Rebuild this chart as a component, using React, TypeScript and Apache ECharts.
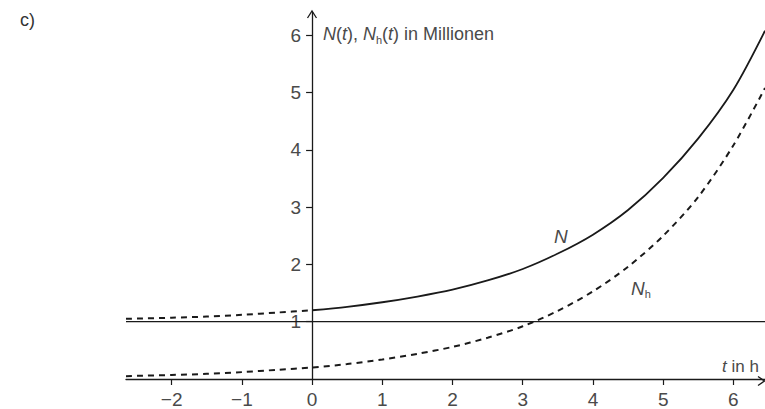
import React, { useEffect, useRef } from "react";
import * as echarts from "echarts";

// time t in h
const tValues = [-2.65, -2, -1.5, -1, -0.5, 0, 0.5, 1, 1.5, 2, 2.5, 3, 3.5, 4, 4.5, 5, 5.5, 6, 6.45];
// N(t) in millions
const nValues = [1.05, 1.07, 1.09, 1.12, 1.16, 1.2, 1.26, 1.34, 1.44, 1.56, 1.72, 1.92, 2.19, 2.52, 2.95, 3.51, 4.2, 5.05, 6.08];
// N_h(t) in millions
const nhValues = [0.05, 0.07, 0.09, 0.12, 0.16, 0.2, 0.26, 0.34, 0.44, 0.56, 0.72, 0.92, 1.19, 1.53, 1.96, 2.5, 3.18, 4.08, 5.08];
// reference level
const levelValue = 1;
// tick labels
const xTicks = [-2, -1, 0, 1, 2, 3, 4, 5, 6];
const yTicks = [1, 2, 3, 4, 5, 6];

const X_MIN = -2.65;
const X_MAX = 6.45;
const Y_MIN = 0;
const Y_MAX = 6.4;

const GRID_LEFT = 126;
const GRID_WIDTH = 765 - GRID_LEFT;
const Y_AXIS_OFFSET = -((0 - X_MIN) / (X_MAX - X_MIN)) * GRID_WIDTH;

const FONT = "'Liberation Sans Narrow', 'Arial Narrow', 'Liberation Sans', Arial, sans-serif";
const INK = "#1a1a1a";
const LABEL = "#4a4a4a";

export default function App() {
  const ref = useRef<HTMLDivElement>(null);

  useEffect(() => {
    if (!ref.current) return;
    const chart = echarts.init(ref.current, undefined, { renderer: "svg" });

    const pts = (vals: number[]) => tValues.map((t, i) => [t, vals[i]]);
    const nAll = pts(nValues);
    const nNeg = nAll.filter((p) => p[0] <= 0);
    const nPos = nAll.filter((p) => p[0] >= 0);
    const nh = pts(nhValues);

    const curve = { smooth: 0.3, showSymbol: false, z: 3 };

    chart.setOption({
      animation: false,
      backgroundColor: "#ffffff",
      grid: { left: GRID_LEFT, right: 0, top: 12.4, bottom: 28, containLabel: false },
      xAxis: {
        type: "value",
        min: X_MIN,
        max: X_MAX,
        axisLine: { show: true, onZero: false, lineStyle: { color: INK, width: 1.3 } },
        axisTick: {
          show: true,
          length: 6,
          customValues: xTicks,
          lineStyle: { color: INK, width: 1.2 },
        },
        axisLabel: {
          show: true,
          customValues: xTicks,
          margin: 11,
          color: LABEL,
          fontSize: 19,
          fontFamily: FONT,
          formatter: (v: number) => String(v).replace("-", "\u2212"),
        },
        splitLine: { show: false },
      },
      yAxis: {
        type: "value",
        min: Y_MIN,
        max: Y_MAX,
        offset: Y_AXIS_OFFSET,
        axisLine: { show: true, onZero: false, lineStyle: { color: INK, width: 1.3 } },
        axisTick: {
          show: true,
          length: 6,
          customValues: yTicks,
          lineStyle: { color: INK, width: 1.2 },
        },
        axisLabel: {
          show: true,
          customValues: yTicks,
          margin: 11,
          color: LABEL,
          fontSize: 19,
          fontFamily: FONT,
        },
        splitLine: { show: false },
      },
      series: [
        {
          name: "level",
          type: "line",
          data: [
            [X_MIN, levelValue],
            [X_MAX, levelValue],
          ],
          showSymbol: false,
          silent: true,
          lineStyle: { color: INK, width: 1.3 },
          z: 1,
        },
        {
          name: "N (t<0)",
          type: "line",
          data: nNeg,
          ...curve,
          lineStyle: { color: INK, width: 2, type: [6, 5] },
        },
        {
          name: "N",
          type: "line",
          data: nPos,
          ...curve,
          lineStyle: { color: INK, width: 1.8 },
        },
        {
          name: "Nh",
          type: "line",
          data: nh,
          ...curve,
          lineStyle: { color: INK, width: 2, type: [6, 5] },
        },
      ],
      graphic: [
        // axis arrow heads
        {
          type: "polyline",
          shape: { points: [[307.5, 18], [312, 11], [316.5, 18]] },
          style: { stroke: INK, lineWidth: 1.3, fill: "none" },
          z: 10,
        },
        {
          type: "polyline",
          shape: { points: [[758, 376.5], [764.5, 381], [758, 385.5]] },
          style: { stroke: INK, lineWidth: 1.3, fill: "none" },
          z: 10,
        },
        {
          type: "text",
          x: 20,
          y: 20,
          style: {
            text: "c)",
            font: `18px ${FONT}`,
            fill: "#333",
            verticalAlign: "middle",
          },
        },
        {
          type: "text",
          x: 323,
          y: 34,
          style: {
            text: "{i|N}({i|t}), {i|N}{s|h}({i|t}) in Millionen",
            verticalAlign: "middle",
            fill: LABEL,
            font: `18px ${FONT}`,
            lineHeight: 22,
            rich: {
              i: { fontStyle: "italic", fontSize: 18, fontFamily: FONT, fill: LABEL, lineHeight: 22 },
              s: { fontSize: 11, fontFamily: FONT, fill: LABEL, lineHeight: 11, verticalAlign: "bottom" },
            },
          },
        },
        {
          type: "text",
          x: 554,
          y: 236,
          style: {
            text: "N",
            font: `italic 19px ${FONT}`,
            fill: LABEL,
            verticalAlign: "middle",
          },
        },
        {
          type: "text",
          x: 631,
          y: 288,
          style: {
            text: "{i|N}{s|h}",
            verticalAlign: "middle",
            fill: LABEL,
            font: `19px ${FONT}`,
            lineHeight: 22,
            rich: {
              i: { fontStyle: "italic", fontSize: 19, fontFamily: FONT, fill: LABEL, lineHeight: 22 },
              s: { fontSize: 11, fontFamily: FONT, fill: LABEL, lineHeight: 11, verticalAlign: "bottom" },
            },
          },
        },
        {
          type: "text",
          x: 722,
          y: 366,
          style: {
            text: "{i|t} in h",
            verticalAlign: "middle",
            fill: LABEL,
            font: `17px ${FONT}`,
            rich: {
              i: { fontStyle: "italic", fontSize: 17, fontFamily: FONT, fill: LABEL },
            },
          },
        },
      ],
    });

    return () => chart.dispose();
  }, []);

  return (
    <div style={{ position: "fixed", left: 0, top: 0, width: 765, height: 409, background: "#fff" }}>
      <div ref={ref} style={{ width: 765, height: 409 }} />
    </div>
  );
}
